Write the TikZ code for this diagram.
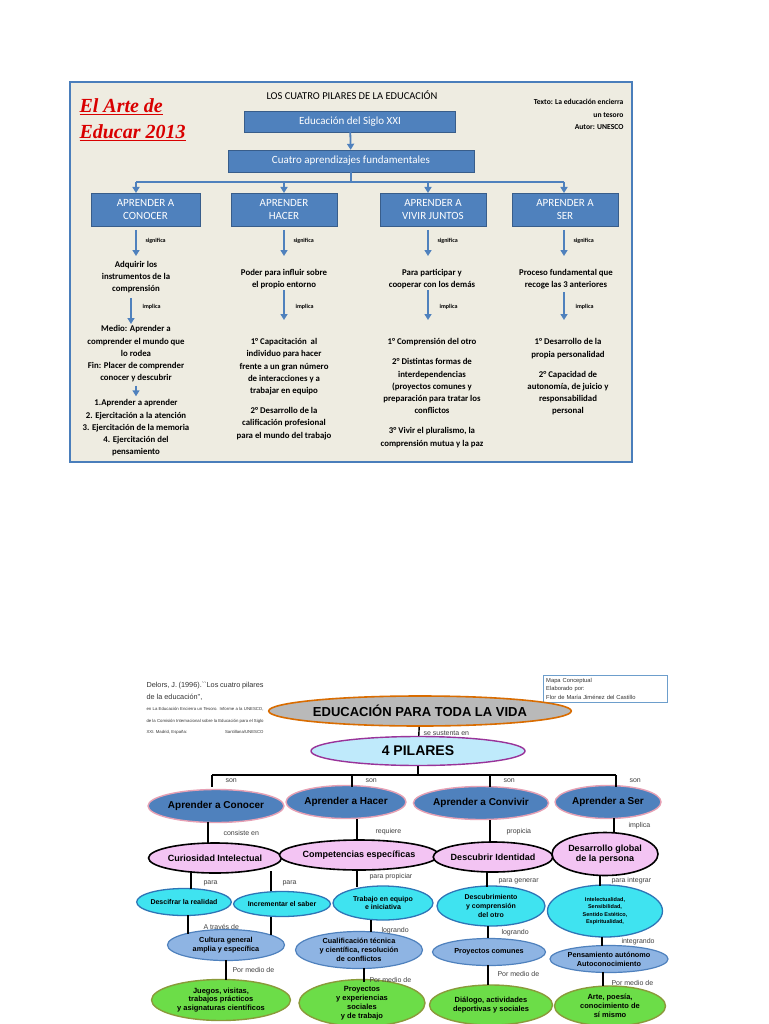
\documentclass[tikz,border=0pt]{standalone}
\usepackage{fontspec}
\setmainfont{Carlito}
\newfontfamily\arial{Liberation Sans}
\newfontfamily\cambria{Liberation Serif}
\usetikzlibrary{arrows.meta, calc, positioning, shapes.geometric}
\definecolor{boxblue}{HTML}{4F81BD}
\definecolor{boxline}{HTML}{385D8A}
\definecolor{panel}{HTML}{EEECE1}
\definecolor{framecol}{HTML}{4A7EBB}
\definecolor{pinkline}{HTML}{E6A0B4}
\definecolor{pinkfill}{HTML}{F3C4F3}
\definecolor{aqua}{HTML}{3FE3F0}
\definecolor{aqualine}{HTML}{2E75B6}
\definecolor{steel}{HTML}{8EB4E3}
\definecolor{leaf}{HTML}{6CDD48}
\definecolor{olive}{HTML}{8A9A3A}
\begin{document}
\begin{tikzpicture}[x=1pt, y=-1pt,
  box/.style={draw=boxline, fill=boxblue, text=white, align=center, inner sep=0pt, font=\fontsize{11}{12.5}\selectfont},
  txt/.style={align=center, font=\fontsize{8.8}{12.2}\selectfont\bfseries},
  arr/.style={draw=boxblue, line width=1.8pt, -{Triangle[width=7pt,length=6pt]}},
  tag/.style={font=\fontsize{6}{6}\selectfont\bfseries, anchor=west},
  oval/.style={ellipse, align=center, inner sep=0pt, font=\arial\bfseries},
  link/.style={line width=1.4pt},
  lab/.style={font=\arial\fontsize{7}{7}\selectfont, text=black!75, anchor=west}]
\useasboundingbox (0,0) rectangle (768,1024);
\fill[white] (0,0) rectangle (768,1024);

% ---- Upper panel
\draw[line width=2.5pt, draw=framecol, fill=panel] (70,82) rectangle (632,462);
\node[font=\fontsize{10.5}{12}\selectfont] (title) at (352,95) {LOS CUATRO PILARES DE LA EDUCACIÓN};
\node[anchor=west, text=red!85!black, font=\cambria\itshape\bfseries\fontsize{20}{24}\selectfont] (arte) at (76,107) {\underline{El Arte de}};
\node[anchor=west, text=red!85!black, font=\cambria\itshape\bfseries\fontsize{20}{24}\selectfont] (educar) at (76,133) {\underline{Educar 2013}};
\node[anchor=north east, align=right, font=\fontsize{7.6}{12.5}\selectfont\bfseries] (texto) at (627,96) {Texto: La educación encierra\\un tesoro\\Autor: UNESCO};

\node[box, minimum width=211, minimum height=21] (siglo) at (350,121.5) {Educación del Siglo XXI};
\node[box, minimum width=246, minimum height=22] (cuatro) at (351,161) {Cuatro aprendizajes fundamentales};
\draw[arr] (siglo) -- (cuatro);

\node[box, minimum width=109, minimum height=33] (conocer) at (145.5,209.5) {APRENDER A\\CONOCER};
\node[box, minimum width=106, minimum height=33] (hacer) at (284,209.5) {APRENDER\\HACER};
\node[box, minimum width=106, minimum height=33] (vivir) at (433,209.5) {APRENDER A\\VIVIR JUNTOS};
\node[box, minimum width=106, minimum height=33] (ser) at (565,209.5) {APRENDER A\\SER};

\coordinate (bus) at (351,182);
\draw[draw=boxblue, line width=1.8pt] (cuatro) -- (bus);
\draw[draw=boxblue, line width=1.8pt] (136,182) -- (564,182);
\foreach \p/\x in {conocer/136, hacer/284, vivir/428, ser/564}
  \draw[arr] (\x,182) -- (\x,193);

% significa level
\node[txt] (a1) at (136,277) {Adquirir los\\instrumentos de la\\comprensión};
\node[txt] (b1) at (284,279) {Poder para influir sobre\\el propio entorno};
\node[txt] (c1) at (432,279) {Para participar y\\cooperar con los demás};
\node[txt] (d1) at (566,279) {Proceso fundamental que\\recoge las 3 anteriores};
\foreach \p/\q/\x in {conocer/a1/136, hacer/b1/284, vivir/c1/428, ser/d1/564} {
  \draw[arr] (\x,230) -- (\x,256);
  \node[tag] at (\x+6,241) {significa};
}

% implica level
\node[txt] (a2) at (136,354) {\textbf{Medio:} Aprender a\\comprender el mundo que\\lo rodea\\Fin: Placer de comprender\\conocer y descubrir};
\node[txt] (a3) at (136,428) {1.Aprender a aprender\\2. Ejercitación a la atención\\3. Ejercitación de la memoria\\4. Ejercitación del\\pensamiento};
\draw[arr, line width=1.5pt] (a2) -- (a3);
\node[txt] (b2) at (284,389) {1° Capacitación\ \ al\\individuo para hacer\\frente a un gran número\\de interacciones y a\\trabajar en equipo\\[8pt]2° Desarrollo de la\\calificación profesional\\para el mundo del trabajo};
\node[txt] (c2) at (432,393) {1° Comprensión del otro\\[8pt]2° Distintas formas de\\interdependencias\\(proyectos comunes y\\preparación para tratar los\\conflictos\\[8pt]3° Vivir el pluralismo, la\\comprensión mutua y la paz};
\node[txt] (d2) at (568,377) {1° Desarrollo de la\\propia personalidad\\[8pt]2° Capacidad de\\autonomía, de juicio y\\responsabilidad\\personal};
\foreach \q/\x/\ya/\yb in {a1/131/298/324, b1/284/290/320, c1/428/290/320, d1/564/292/320} {
  \draw[arr] (\x,\ya) -- (\x,\yb);
  \node[tag] at (\x+8,307) {implica};
}

% ---- Lower map
\node[anchor=north west, text width=117, align=justify, font=\arial\fontsize{7.3}{11.5}\selectfont, text=black!80] (delors) at (143,679)
  {Delors, J. (1996).``Los cuatro pilares de la educación'',\par
   \fontsize{4.3}{6.2}\selectfont en La Educación Encierra un Tesoro. Informe a la UNESCO, de la Comisión Internacional sobre la Educación para el Siglo XXI. Madrid, España:\hfill Santillana/UNESCO};
\node[anchor=north west, draw=aqualine!70, thin, text width=118, align=left, inner sep=3pt, font=\arial\fontsize{5.8}{8.5}\selectfont, text=black!80] (mapa) at (543,675)
  {Mapa Conceptual\\Elaborado por:\\Flor de María Jiménez del Castillo};

\node[oval, draw=orange!85!black, line width=1.6pt, fill=gray!55, minimum width=283, minimum height=30, font=\arial\bfseries\fontsize{13}{14}\selectfont] (vida) at (420,711) {EDUCACIÓN PARA TODA LA VIDA};
\node[oval, draw=violet!80, line width=1.4pt, fill=cyan!25, minimum width=214, minimum height=29, font=\arial\bfseries\fontsize{14}{15}\selectfont] (pilares) at (418,751) {4 PILARES};
\draw[link] (vida) -- (pilares);
\node[lab] at (420,733) {se sustenta en};
\coordinate (hub) at (418,775);
\draw[link] (pilares) -- (hub);
\draw[link] (212,775) -- (616,775);

\tikzset{pilar/.style={oval, draw=pinkline, line width=1.4pt, fill=boxblue, font=\arial\bfseries\fontsize{10}{11}\selectfont, minimum height=33}}
\node[pilar, minimum width=122] (pc) at (216,806) {Aprender a Conocer};
\node[pilar, minimum width=120] (ph) at (346,802) {Aprender a Hacer};
\node[pilar, minimum width=121] (pv) at (481,803) {Aprender a Convivir};
\node[pilar, minimum width=106] (ps) at (608,802) {Aprender a Ser};
\foreach \p/\x in {pc/212, ph/352, pv/490, ps/616} {
  \draw[link] (\x,775) -- (\x,787);
  \node[lab] at (\x+10,781) {son};
}

\tikzset{meta/.style={oval, draw=black, line width=1.6pt, fill=pinkfill, font=\arial\bfseries\fontsize{9}{10.5}\selectfont, minimum height=30}}
\node[meta, minimum width=128] (cur) at (215,858) {Curiosidad Intelectual};
\node[meta, minimum width=140] (comp) at (359,855) {Competencias específicas};
\node[meta, minimum width=114] (iden) at (493,857) {Descubrir Identidad};
\node[meta, minimum width=106, minimum height=43] (glob) at (605,854) {Desarrollo global\\de la persona};
\draw[link] (208,822) -- (208,843);
\node[lab] at (220,833) {consiste en};
\draw[link] (357,819) -- (357,840);
\node[lab] at (372,832) {requiere};
\draw[link] (490,820) -- (490,842);
\node[lab] at (503,832) {propicia};
\draw[link] (614,818) -- (614,833);
\node[lab] at (625,826) {implica};

\tikzset{goal/.style={oval, draw=aqualine, line width=1.3pt, fill=aqua, font=\arial\bfseries\fontsize{7}{8.8}\selectfont}}
\node[goal, minimum width=94, minimum height=27] (desc) at (184,902) {Descifrar la realidad};
\node[goal, minimum width=92, minimum height=25] (incr) at (282,904) {Incrementar el saber};
\node[goal, minimum width=100, minimum height=34] (trab) at (383,903) {Trabajo en equipo\\e iniciativa};
\node[goal, minimum width=108, minimum height=40] (desot) at (491,906) {Descubrimiento\\y comprensión\\del otro};
\node[goal, minimum width=115, minimum height=52, font=\arial\bfseries\fontsize{5.5}{7.2}\selectfont] (intel) at (605,911) {Intelectualidad,\\Sensibilidad,\\Sentido Estético,\\Espiritualidad,};
\draw[link] (191,871) -- (191,889);
\draw[link] (271,871) -- (271,891);
\node[lab] at (200,883) {para};
\node[lab] at (279,883) {para};
\draw[link] (357,870) -- (357,887);
\node[lab] at (366,877) {para propiciar};
\draw[link] (487,871) -- (487,887);
\node[lab] at (495,881) {para generar};
\draw[link] (600,876) -- (600,886);
\node[lab] at (608,881) {para integrar};

\tikzset{means/.style={oval, draw=boxblue, line width=1.2pt, fill=steel, font=\arial\bfseries\fontsize{7.3}{9}\selectfont}}
\node[means, minimum width=117, minimum height=31] (cult) at (226,945) {Cultura general\\amplia y específica};
\node[means, minimum width=127, minimum height=37] (cual) at (359,950) {Cualificación técnica\\y científica, resolución\\de conflictos};
\node[means, minimum width=113, minimum height=27] (proy) at (489,952) {Proyectos comunes};
\node[means, minimum width=118, minimum height=27] (pens) at (609,959) {Pensamiento autónomo\\Autoconocimiento};
\draw[link] (188,915) -- (188,934);
\draw[link] (271,917) -- (271,935);
\node[lab] at (200,927) {A través de};
\draw[link] (371,920) -- (371,932);
\node[lab] at (378,931) {logrando};
\draw[link] (488,926) -- (488,938);
\node[lab] at (498,933) {logrando};
\draw[link] (602,937) -- (602,946);
\node[lab] at (618,942) {integrando};

\tikzset{act/.style={oval, draw=olive, line width=1.4pt, fill=leaf, font=\arial\bfseries\fontsize{7.5}{8.8}\selectfont}}
\node[act, minimum width=139, minimum height=41] (jueg) at (221,1000) {Juegos, visitas,\\trabajos prácticos\\y asignaturas científicos};
\node[act, minimum width=126, minimum height=44] (pexp) at (362,1003) {Proyectos\\y experiencias\\sociales\\y de trabajo};
\node[act, minimum width=123, minimum height=40] (dial) at (491,1005) {Diálogo, actividades\\deportivas y sociales};
\node[act, minimum width=111, minimum height=40] (arts) at (610,1006) {Arte, poesía,\\conocimiento de\\sí mismo};
\draw[link] (226,960) -- (226,980);
\node[lab] at (229,970) {Por medio de};
\draw[link] (364,968) -- (364,982);
\node[lab] at (366,980) {Por medio de};
\draw[link] (488,965) -- (488,985);
\node[lab] at (494,974) {Por medio de};
\draw[link] (603,972) -- (603,986);
\node[lab] at (608,983) {Por medio de};
\end{tikzpicture}
\end{document}
